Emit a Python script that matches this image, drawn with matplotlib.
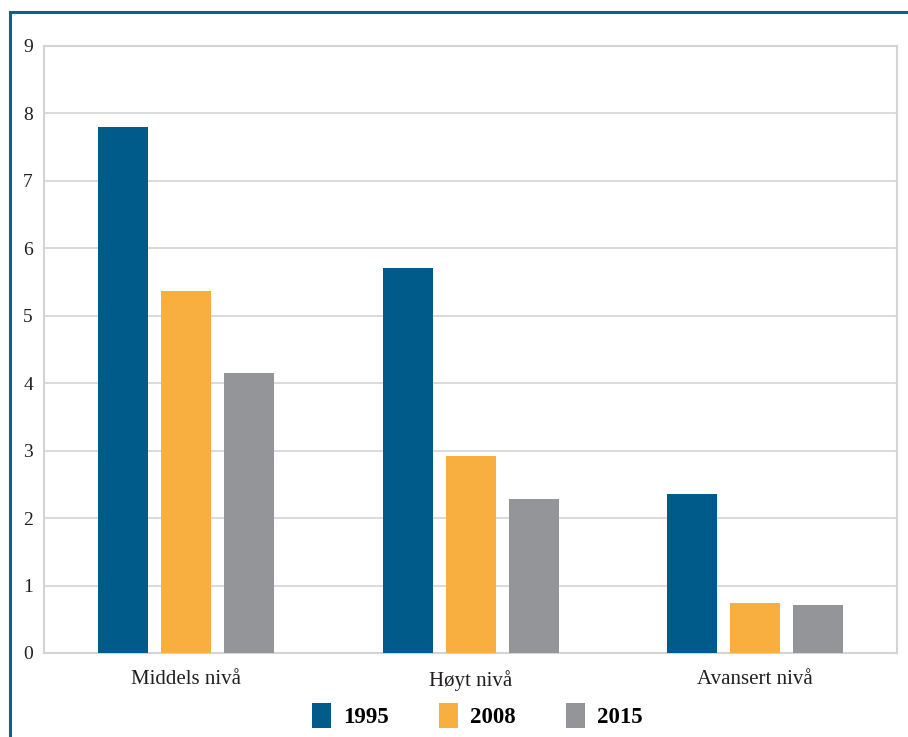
import numpy as np
import matplotlib.pyplot as plt
from matplotlib.lines import Line2D
from matplotlib.patches import Patch

categories = ['Middels nivå', 'Høyt nivå', 'Avansert nivå']
years = ['1995', '2008', '2015']
v1995 = [7.80, 5.71, 2.35]
v2008 = [5.37, 2.92, 0.74]
v2015 = [4.15, 2.28, 0.71]
colors = ['#005b8a', '#f9ae40', '#939598']

plt.rcParams['font.family'] = ['Liberation Serif', 'DejaVu Serif']

fig = plt.figure(figsize=(9.08, 7.37), dpi=100)
ax = fig.add_axes([0.0485, 0.114, 0.9395, 0.8236])

x = np.arange(len(categories))
width = 0.176
step = 0.2215
for k, (vals, col) in enumerate(zip([v1995, v2008, v2015], colors)):
    ax.bar(x + (k - 1) * step, vals, width, color=col, zorder=3)

ax.set_xlim(-0.5, 2.5)
ax.set_ylim(0, 9)
ax.set_yticks(range(10))
ax.set_xticks(x)
ax.set_xticklabels(categories, fontsize=15, color='#231f20')
ax.tick_params(axis='y', labelsize=14, colors='#231f20', length=0, pad=8)
ax.tick_params(axis='x', length=0, pad=12)
ax.grid(axis='y', color='#d4d4d4', linewidth=1.2, zorder=0)
for s in ax.spines.values():
    s.set_color('#d4d4d4')
    s.set_linewidth(1.5)

# ramme (blå linje oppe og til venstre)
fig.add_artist(Line2D([0.0105, 1.0], [0.9835, 0.9835], color='#0a6196', linewidth=2.2))
fig.add_artist(Line2D([0.0105, 0.0105], [0.0, 0.9835], color='#0a6196', linewidth=2.2))

handles = [Patch(facecolor=c, edgecolor='none') for c in colors]
fig.legend(handles, years, loc='center', bbox_to_anchor=(0.526, 0.029), ncol=3,
           frameon=False, prop={'weight': 'bold', 'size': 16.5},
           handlelength=0.8, handleheight=1.3, handletextpad=0.55, columnspacing=2.2)

plt.savefig('out.png', dpi=100)
